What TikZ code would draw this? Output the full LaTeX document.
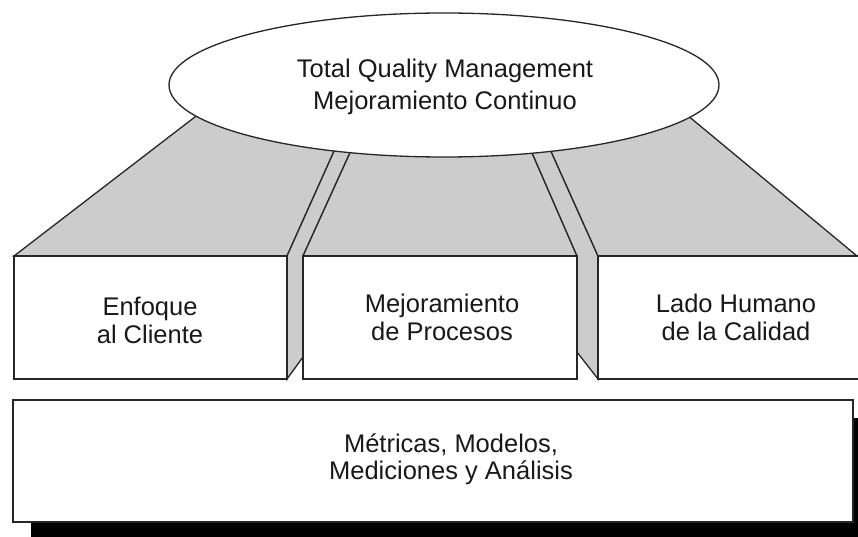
\documentclass[tikz,border=0pt]{standalone}
\usepackage{fontspec}
\setmainfont{Liberation Sans}
\usetikzlibrary{shapes.geometric}
\begin{document}
\begin{tikzpicture}[x=1pt,y=-1pt,
  lw/.style={line width=1.3pt, draw=black!85, line join=miter},
  face/.style={lw, fill=black!20},
  boxnode/.style={lw, fill=white, rectangle, inner sep=0pt, minimum height=123pt},
  txt/.style={align=center, inner sep=0pt, text=black!90},
]
\clip (0,0) rectangle (858,537);
\fill[white] (0,0) rectangle (858,537);
% roofs and side faces
\draw[face] (14,256) -- (217,100) -- (357,100) -- (287,256) -- cycle;
\draw[face] (287,379) -- (287,256) -- (357,100) -- (374,100) -- (303,256) -- (303,357) -- cycle;
\draw[face] (303,256) -- (374,100) -- (509,100) -- (577,256) -- cycle;
\draw[face] (577,352) -- (577,256) -- (509,100) -- (528,100) -- (598,256) -- (598,379) -- cycle;
\draw[face] (598,256) -- (528,100) -- (669,100) -- (857,256) -- cycle;
% pillar fronts
\node[boxnode, minimum width=273pt] (b1) at (150.5,317.5) {};
\node[boxnode, minimum width=274pt] (b2) at (440,317.5) {};
\node[boxnode, minimum width=276pt] (b3) at (736,317.5) {};
\node[txt, font=\fontsize{25.5}{28}\selectfont] (t1) at (150,320) {Enfoque\\al Cliente};
\node[txt, font=\fontsize{25.5}{28}\selectfont] (t2) at (442,317) {Mejoramiento\\de Procesos};
\node[txt, font=\fontsize{25.5}{28}\selectfont] (t3) at (736,317) {Lado Humano\\de la Calidad};
% ellipse
\node[lw, fill=white, ellipse, inner sep=0pt, minimum width=550pt, minimum height=144pt] (tqm) at (444,85) {};
\node[txt, font=\fontsize{25.5}{32}\selectfont] (tt) at (445,86.5) {Total Quality Management\\Mejoramiento Continuo};
% base with shadow
\fill[black] (31,418) rectangle (871,540);
\node[lw, fill=white, rectangle, inner sep=0pt, minimum width=840pt, minimum height=122pt] (base) at (433,461) {};
\node[txt, font=\fontsize{25.5}{27}\selectfont] (bt) at (451,459.5) {Métricas, Modelos,\\Mediciones y Análisis};
\end{tikzpicture}
\end{document}
